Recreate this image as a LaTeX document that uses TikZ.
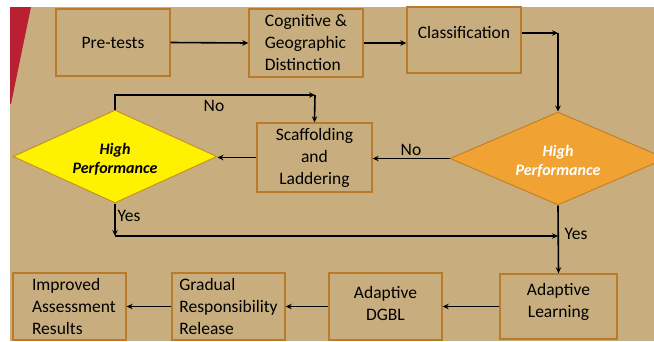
\documentclass[tikz,border=0pt]{standalone}
\usepackage{fontspec}
\setmainfont{Carlito}
\usetikzlibrary{shapes.geometric,arrows.meta}
\definecolor{bg}{RGB}{200,174,126}
\definecolor{boxc}{RGB}{186,122,42}
\definecolor{orfill}{RGB}{240,162,50}
\definecolor{orline}{RGB}{196,128,40}
\definecolor{yeline}{RGB}{196,146,40}
\definecolor{redc}{RGB}{186,32,52}
\tikzset{
  box/.style={draw=boxc, line width=1.4pt, inner sep=0pt, font=\fontsize{17.5}{22}\selectfont, align=center},
  dec/.style={shape=diamond, aspect=2.2, inner sep=0pt, line width=1pt, font=\fontsize{16}{19}\selectfont\bfseries\itshape, align=center, text height=33pt, text depth=0pt},
  conn/.style={line width=1.6pt, -{Stealth[length=6pt,width=5.5pt]}},
  lab/.style={font=\fontsize{17.5}{20}\selectfont, inner sep=0pt}
}
\begin{document}
\begin{tikzpicture}[x=1pt,y=-1pt]
\useasboundingbox (0,0) rectangle (654,341);
\clip (0,0) rectangle (654,341);
\fill[white] (0,0) rectangle (654,341);
\fill[bg] (10,7) rectangle (654,341);
\fill[redc] (10,7) -- (31,7) -- (11,104) -- (10,104) -- cycle;
% boxes
\node[box, minimum width=114pt, minimum height=67pt] (pre) at (113,42.5) {Pre-tests};
\node[box, minimum width=114pt, minimum height=68pt, align=left] (cog) at (306,43) {Cognitive \&\\Geographic\\Distinction};
\node[box, minimum width=114pt, minimum height=66pt, text height=11pt, text depth=15pt] (cls) at (464,40) {Classification};
\node[box, minimum width=115pt, minimum height=69pt] (scf) at (314.5,157.5) {Scaffolding\\and\\Laddering};
\node[box, minimum width=117pt, minimum height=65pt, text height=34pt, text depth=11.5pt] (al) at (558.5,306.5) {Adaptive\\Learning};
\node[box, minimum width=113pt, minimum height=67pt, text height=34pt, text depth=7pt] (dgbl) at (385.5,306.5) {Adaptive\\DGBL};
\node[box, minimum width=113pt, minimum height=67pt, align=left] (grad) at (228.5,306.5) {Gradual\\Responsibility\\Release};
\node[box, minimum width=113pt, minimum height=67pt, align=left, text width=75pt] (imp) at (69.5,306.5) {Improved\\Assessment\\Results};
% diamonds
\node[dec, draw=yeline, fill=yellow, minimum width=204pt, minimum height=93pt] (yd) at (115,156.5) {High\\Performance};
\node[dec, draw=orline, fill=orfill, text=white, minimum width=216pt, minimum height=93pt] (od) at (558,158.5) {High\\Performance};
% coordinates
\coordinate (c1) at (558,33);
\coordinate (c2) at (315,95);
\coordinate (c3) at (115,236);
\coordinate (c4) at (558,236);
% connectors
\draw[conn] (pre.east) -- (cog.west);
\draw[conn] (cog.east) -- (cog.east -| cls.west);
\draw[conn] (c1 -| cls.east) -- (c1);
\draw[conn] (c1) -- (od.north);
\draw[conn] (od.west) -- (od.west -| scf.east);
\draw[conn] (scf.west) -- (scf.west -| yd.east);
\draw[conn] (yd.north) |- (c2);
\draw[conn] (c2) -- (scf.north);
\draw[conn] (yd.south) -- (c3);
\draw[conn] (c3) -- (c4);
\draw[conn] (od.south) -- (al.north);
\draw[conn] (al.west) -- (dgbl.east);
\draw[conn] (dgbl.west) -- (grad.east);
\draw[conn] (grad.west) -- (imp.east);
% labels
\node[lab] (no1) at (214,106) {No};
\node[lab] (no2) at (411,150) {No};
\node[lab] (yes1) at (129,216) {Yes};
\node[lab] (yes2) at (576,234) {Yes};
\end{tikzpicture}
\end{document}
